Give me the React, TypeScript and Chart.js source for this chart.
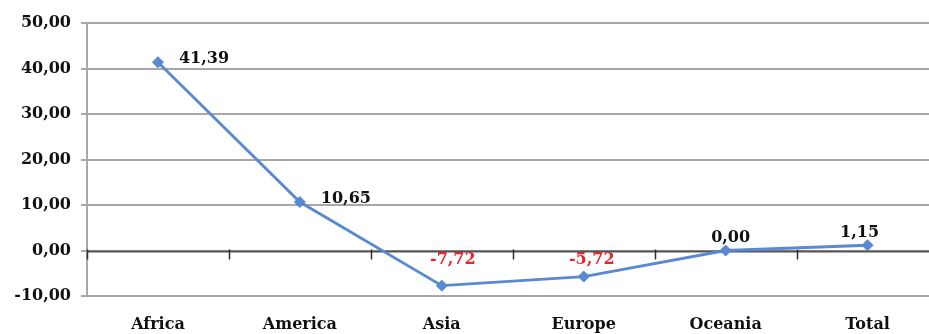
import React, { useEffect, useRef } from "react";
import { Chart, registerables } from "chart.js";

Chart.register(...registerables);

// Regional values (percentage change)
const categories = ["Africa", "America", "Asia", "Europe", "Oceania", "Total"];
const values = [41.39, 10.65, -7.72, -5.72, 0.0, 1.15];
const yTicks = [-10, 0, 10, 20, 30, 40, 50];

const FONT = "'DejaVu Serif', 'Liberation Serif', serif";
const LINE_BLUE = "#5889d2";
const GRID = "#a8a8a8";

const fmt = (v: number) => v.toFixed(2).replace(".", ",");

// Value labels drawn next to each point; negatives in red
const valueLabels = {
  id: "valueLabels",
  afterDatasetsDraw(chart: any, _args: any, opts: any) {
    const meta = chart.getDatasetMeta(0);
    const data = chart.data.datasets[0].data as number[];
    const ctx = chart.ctx;
    ctx.save();
    ctx.font = `bold 16px ${FONT}`;
    ctx.textAlign = "center";
    ctx.textBaseline = "middle";
    meta.data.forEach((pt: any, i: number) => {
      const [dx, dy] = opts.offsets[i];
      const v = data[i];
      ctx.fillStyle = v < 0 ? "#e3262b" : "#111111";
      ctx.fillText(fmt(v), pt.x + dx, pt.y + dy);
    });
    ctx.restore();
  },
};

// Category axis line crossing at zero, with tick marks between categories
const zeroAxis = {
  id: "zeroAxis",
  beforeDatasetsDraw(chart: any) {
    const { ctx, chartArea, scales } = chart;
    const y0 = Math.round(scales.y.getPixelForValue(0)) + 0.5;
    const n = chart.data.labels.length;
    const step = (chartArea.right - chartArea.left) / n;
    ctx.save();
    ctx.strokeStyle = "#555555";
    ctx.lineWidth = 1.8;
    ctx.beginPath();
    ctx.moveTo(chartArea.left, y0);
    ctx.lineTo(chartArea.right, y0);
    ctx.stroke();
    ctx.strokeStyle = "#2e2e2e";
    ctx.lineWidth = 1.5;
    for (let i = 0; i <= n; i++) {
      const x = Math.round(chartArea.left + i * step) + 0.5;
      ctx.beginPath();
      ctx.moveTo(x, y0 - 2);
      ctx.lineTo(x, y0 + 8);
      ctx.stroke();
    }
    ctx.restore();
  },
};

const bgWhite = {
  id: "bgWhite",
  beforeDraw(chart: any) {
    const { ctx, width, height } = chart;
    ctx.save();
    ctx.fillStyle = "#ffffff";
    ctx.fillRect(0, 0, width, height);
    ctx.restore();
  },
};

export default function App() {
  const ref = useRef<HTMLCanvasElement | null>(null);

  useEffect(() => {
    if (!ref.current) return;
    const chart = new Chart(ref.current, {
      type: "line",
      data: {
        labels: categories,
        datasets: [
          {
            data: values,
            borderColor: LINE_BLUE,
            backgroundColor: LINE_BLUE,
            borderWidth: 2.8,
            pointStyle: "rectRot",
            pointRadius: 5.5,
            pointBorderWidth: 1,
            pointBackgroundColor: LINE_BLUE,
            pointBorderColor: LINE_BLUE,
            tension: 0,
          },
        ],
      },
      options: {
        animation: false,
        responsive: true,
        maintainAspectRatio: false,
        layout: { padding: { top: 23, right: 4, left: 0, bottom: 0 } },
        plugins: {
          legend: { display: false },
          tooltip: { enabled: false },
          valueLabels: {
            offsets: [
              [46, -3],
              [46, -3],
              [11, -26],
              [8, -17],
              [5, -13],
              [-8, -12],
            ],
          },
        } as any,
        scales: {
          x: {
            type: "category",
            offset: true,
            grid: { display: false },
            border: { display: false },
            ticks: {
              color: "#111111",
              font: { family: FONT, size: 16, weight: "bold" },
              padding: 11,
              maxRotation: 0,
              autoSkip: false,
            },
            afterFit: (s: any) => {
              s.height = 38;
            },
          },
          y: {
            min: -10,
            max: 50,
            afterBuildTicks: (s: any) => {
              s.ticks = yTicks.map((v) => ({ value: v }));
            },
            grid: {
              color: GRID,
              lineWidth: 2,
              tickLength: 6,
            },
            border: { display: true, color: GRID, width: 2 },
            ticks: {
              color: "#111111",
              font: { family: FONT, size: 16, weight: "bold" },
              padding: 10,
              callback: (v: any) => fmt(Number(v)),
            },
            afterFit: (s: any) => {
              s.width = 87;
            },
          },
        },
      },
      plugins: [bgWhite, zeroAxis, valueLabels],
    });
    return () => chart.destroy();
  }, []);

  return (
    <div
      style={{
        position: "fixed",
        left: 0,
        top: 0,
        width: 929,
        height: 334,
        overflow: "hidden",
        background: "#ffffff",
      }}
    >
      <div style={{ position: "relative", width: 945, height: 334 }}>
        <canvas ref={ref} />
      </div>
    </div>
  );
}
